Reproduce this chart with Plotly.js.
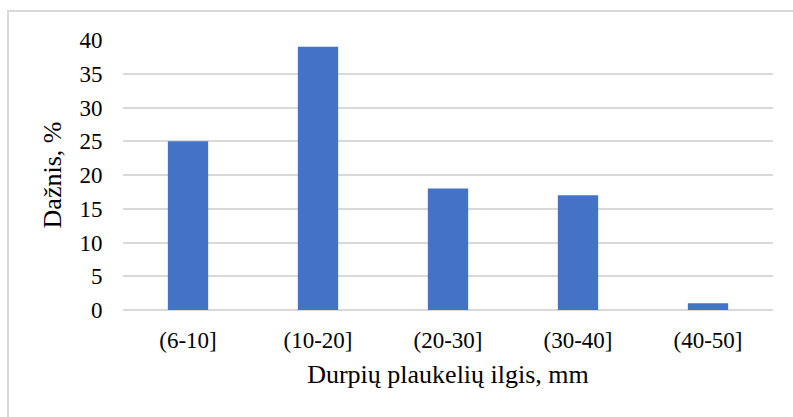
<!DOCTYPE html>
<html>
<head>
<meta charset="utf-8">
<script src="https://cdn.plot.ly/plotly-3.0.1.min.js"></script>
<style>
  html, body { margin: 0; padding: 0; background: #fff; }
  #wrap { position: relative; width: 793px; height: 417px; overflow: hidden; }
  #frame { position: absolute; left: 7px; top: 10px; width: 800px; height: 420px;
           border-left: 2px solid #d9d9d9; border-top: 2px solid #d9d9d9; box-sizing: border-box; pointer-events: none; }
  #chart { position: absolute; left: 0; top: 0; width: 793px; height: 417px; }
</style>
</head>
<body>
<div id="wrap">
  <div id="chart"></div>
  <div id="frame"></div>
</div>
<script>
const categories = ["(6-10]", "(10-20]", "(20-30]", "(30-40]", "(40-50]"];
const values = [25, 39, 18, 17, 1];
const yTicks = [0, 5, 10, 15, 20, 25, 30, 35, 40];
const xTitle = "Durpių plaukelių ilgis, mm";
const yTitle = "Dažnis, %";

const font = "Liberation Serif";

Plotly.newPlot("chart", [{
  type: "bar",
  x: categories,
  y: values,
  marker: { color: "#4472c4" },
  hoverinfo: "x+y"
}], {
  width: 793,
  height: 417,
  margin: { l: 123, r: 20, t: 40, b: 107 },
  paper_bgcolor: "rgba(0,0,0,0)",
  plot_bgcolor: "#fff",
  bargap: 0.69,
  showlegend: false,
  font: { family: font, color: "#000", size: 23 },
  xaxis: {
    type: "category",
    showgrid: false,
    showline: false,
    ticks: "outside",
    ticklen: 9,
    tickcolor: "rgba(0,0,0,0)",
    tickfont: { family: font, size: 23, color: "#000" },
    title: { text: xTitle, font: { family: font, size: 26, color: "#000" }, standoff: 13 },
    automargin: false
  },
  yaxis: {
    range: [0, 40],
    tickvals: yTicks,
    ticktext: yTicks.map(String),
    showgrid: true,
    gridcolor: "#d9d9d9",
    gridwidth: 1.5,
    zeroline: true,
    zerolinecolor: "#d9d9d9",
    zerolinewidth: 1.5,
    showline: false,
    ticks: "outside",
    ticklen: 15,
    tickcolor: "rgba(0,0,0,0)",
    tickfont: { family: font, size: 23, color: "#000" },
    title: { text: yTitle, font: { family: font, size: 26, color: "#000" }, standoff: 10 },
    automargin: false
  }
}, { displayModeBar: false });
</script>
</body>
</html>
